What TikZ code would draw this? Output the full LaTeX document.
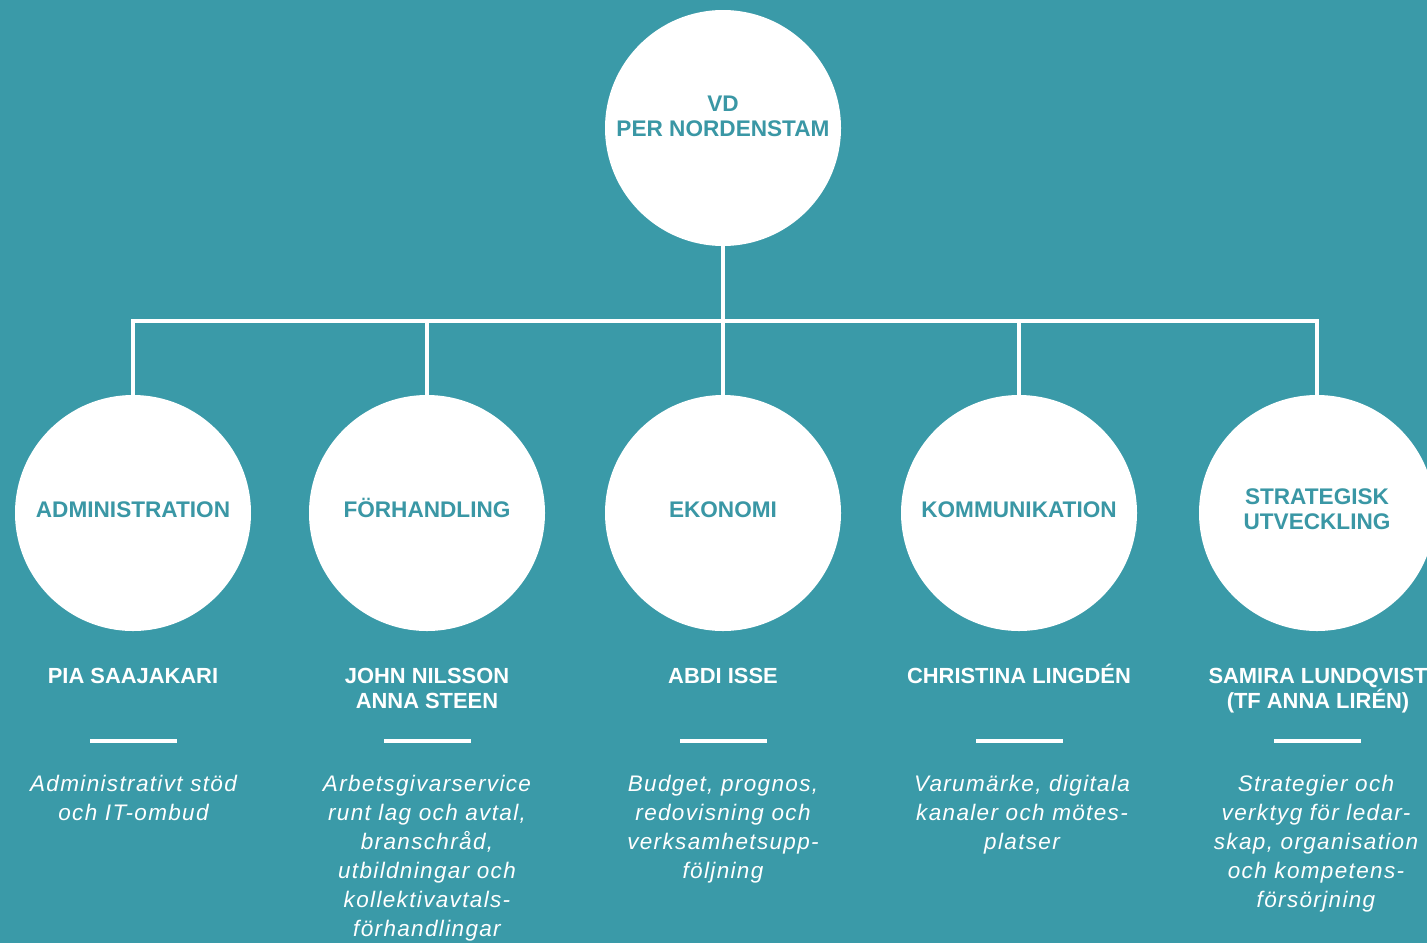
\documentclass[tikz,border=0pt]{standalone}
\usepackage{fontspec}
\setmainfont{Liberation Sans}
\newfontfamily\descfont[LetterSpace=6]{Liberation Sans}
\definecolor{bg}{HTML}{3A9AA8}
\definecolor{tealtxt}{HTML}{3A97A5}
\begin{document}
\begin{tikzpicture}[x=1pt,y=-1pt,
  circnode/.style={circle,fill=white,minimum size=236pt,inner sep=0pt},
  ctext/.style={text=tealtxt,font=\bfseries\fontsize{22.6}{25}\selectfont,align=center,anchor=base,inner sep=0pt},
  persontext/.style={text=white,font=\bfseries\fontsize{21.9}{25}\selectfont,align=center,anchor=base,inner sep=0pt},
  desctext/.style={text=white,font=\descfont\itshape\fontsize{22.5}{29}\selectfont,align=center,anchor=base,inner sep=0pt},
  dashbar/.style={fill=white,minimum width=87pt,minimum height=4pt,inner sep=0pt},
  link/.style={draw=white,line width=4pt}]
\fill[bg] (0,0) rectangle (1427,943);
\useasboundingbox (0,0) rectangle (1427,943);
% circles
\node[circnode] (vd) at (723,128) {};
\node[circnode] (c1) at (133,513) {};
\node[circnode] (c2) at (427,513) {};
\node[circnode] (c3) at (723,513) {};
\node[circnode] (c4) at (1019,513) {};
\node[circnode] (c5) at (1317,513) {};
% connectors
\coordinate (j) at (723,321);
\draw[link] (vd.south) -- (j);
\draw[link] (c1.north) -- (c1.north |- j) -- (c5.north |- j) -- (c5.north);
\draw[link] (c2.north |- j) -- (c2.north);
\draw[link] (c3.north |- j) -- (c3.north);
\draw[link] (c4.north |- j) -- (c4.north);
% circle labels (base = baseline of last line)
\node[ctext] (tvd) at (723,136) {VD\\PER NORDENSTAM};
\node[ctext] (t1) at (133,517.5) {ADMINISTRATION};
\node[ctext] (t2) at (427,517.5) {FÖRHANDLING};
\node[ctext] (t3) at (723,517) {EKONOMI};
\node[ctext] (t4) at (1019,517.5) {KOMMUNIKATION};
\node[ctext] (t5) at (1317,529) {STRATEGISK\\UTVECKLING};
% names
\node[persontext] (n1) at (133,683) {PIA SAAJAKARI};
\node[persontext] (n2) at (427,708) {JOHN NILSSON\\ANNA STEEN};
\node[persontext] (n3) at (723,683) {ABDI ISSE};
\node[persontext] (n4) at (1019,683) {CHRISTINA LINGDÉN};
\node[persontext] (n5) at (1318,708) {SAMIRA LUNDQVIST\\(TF ANNA LIRÉN)};
% bars
\node[dashbar] (d1) at (133,741) {};
\node[dashbar] (d2) at (427,741) {};
\node[dashbar] (d3) at (723,741) {};
\node[dashbar] (d4) at (1019,741) {};
\node[dashbar] (d5) at (1317,741) {};
% descriptions
\node[desctext] (e1) at (133.5,820) {Administrativt stöd\\och IT-ombud};
\node[desctext] (e2) at (427,936) {Arbetsgivarservice\\runt lag och avtal,\\branschråd,\\utbildningar och\\kollektivavtals-\\förhandlingar};
\node[desctext] (e3) at (723,878) {Budget, prognos,\\redovisning och\\verksamhetsupp-\\följning};
\node[desctext] (e4) at (1022,849) {Varumärke, digitala\\kanaler och mötes-\\platser};
\node[desctext] (e5) at (1316,907) {Strategier och\\verktyg för ledar-\\skap, organisation\\och kompetens-\\försörjning};
\end{tikzpicture}
\end{document}
